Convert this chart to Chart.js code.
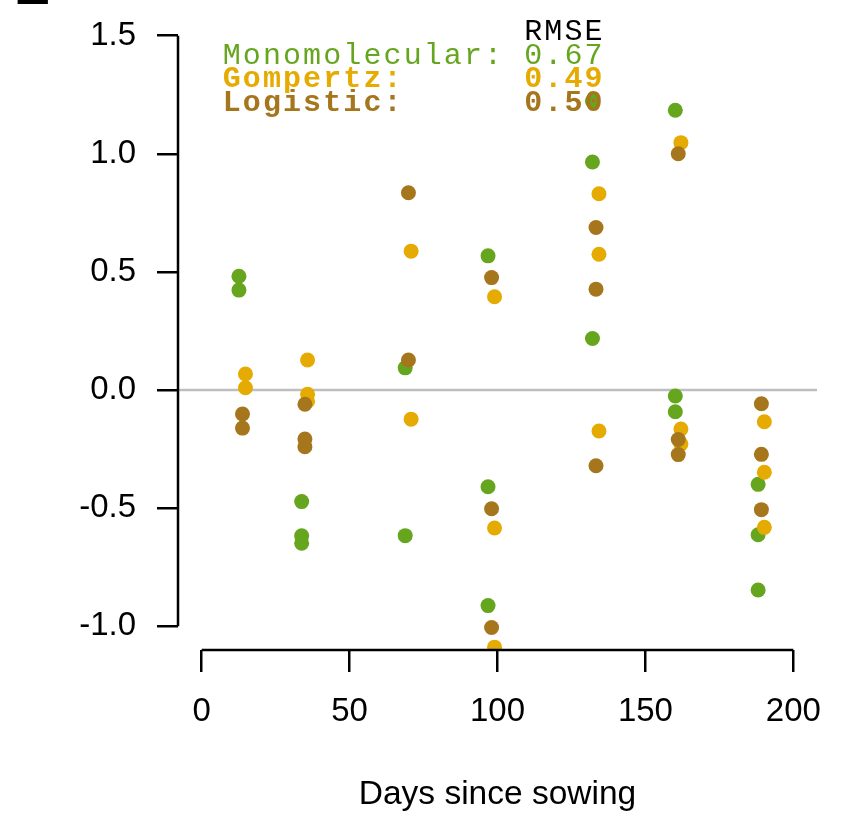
<!DOCTYPE html>
<html>
<head>
<meta charset="utf-8">
<script src="https://cdn.jsdelivr.net/npm/chart.js@4/dist/chart.umd.min.js"></script>
<style>
  html, body { margin: 0; padding: 0; background: #fff; }
  canvas { display: block; }
</style>
</head>
<body>
<canvas id="c" width="849" height="816"></canvas>
<script>
// residuals per model (x = days since sowing)
const monoDays  = [12.6, 12.6, 33.8, 33.8, 33.8, 68.8, 68.8, 96.8, 96.8, 96.8, 132.1, 132.1, 132.1, 160.1, 160.1, 160.1, 188.1, 188.1, 188.1];
const monoResid = [0.482, 0.423, -0.472, -0.617, -0.648, 0.094, -0.616, 0.568, -0.409, -0.912, 1.223, 0.965, 0.218, 1.184, -0.025, -0.092, -0.399, -0.612, -0.846];

const gompDays  = [14.8, 14.8, 35.8, 35.8, 35.8, 70.8, 70.8, 99.0, 99.0, 99.0, 134.3, 134.3, 134.3, 162.0, 162.0, 162.0, 190.2, 190.2, 190.2];
const gompResid = [0.068, 0.010, 0.127, -0.018, -0.047, 0.588, -0.123, 0.395, -0.584, -1.088, 0.831, 0.575, -0.173, 1.047, -0.165, -0.228, -0.134, -0.348, -0.581];

const logiDays  = [13.8, 13.8, 34.9, 34.9, 34.9, 69.9, 69.9, 98.0, 98.0, 98.0, 133.3, 133.3, 133.3, 161.1, 161.1, 161.1, 189.2, 189.2, 189.2];
const logiResid = [-0.101, -0.161, -0.060, -0.207, -0.240, 0.835, 0.127, 0.476, -0.502, -1.005, 0.688, 0.427, -0.320, 1.000, -0.209, -0.273, -0.058, -0.272, -0.506];

const models = ['Monomolecular', 'Gompertz', 'Logistic'];
const rmse = ['0.67', '0.49', '0.50'];
const colors = ['#66A61E', '#E6AB02', '#A6761D'];

const xTicks = [0, 50, 100, 150, 200];
const yTicks = [-1.0, -0.5, 0.0, 0.5, 1.0, 1.5];

const sans = '"Liberation Sans", Arial, Helvetica, sans-serif';
const mono = '"Liberation Mono", "Courier New", monospace';

const toPts = (xs, ys) => xs.map((x, i) => ({ x: x, y: ys[i] }));

// no extra room for edge labels, the plot box is fixed by layout padding
const noPad = s => { s.paddingTop = 0; s.paddingBottom = 0; s.paddingLeft = 0; s.paddingRight = 0; };

// zero line, clipped axis lines, RMSE legend, panel letter
const frame = {
    id: 'frame',
    beforeDatasetsDraw(chart) {
        const { ctx, chartArea: a, scales: { y } } = chart;
        const y0 = y.getPixelForValue(0);
        ctx.save();
        ctx.strokeStyle = '#BEBEBE';
        ctx.lineWidth = 2.5;
        ctx.beginPath();
        ctx.moveTo(a.left, y0);
        ctx.lineTo(a.right, y0);
        ctx.stroke();
        ctx.restore();
    },
    afterDraw(chart) {
        const { ctx, chartArea: a, scales: { x, y } } = chart;
        ctx.save();
        ctx.strokeStyle = '#000';
        ctx.lineWidth = 2.5;
        ctx.beginPath();
        ctx.moveTo(a.left, y.getPixelForValue(yTicks[0]));
        ctx.lineTo(a.left, y.getPixelForValue(yTicks[yTicks.length - 1]));
        ctx.moveTo(x.getPixelForValue(xTicks[0]), a.bottom);
        ctx.lineTo(x.getPixelForValue(xTicks[xTicks.length - 1]), a.bottom);
        ctx.stroke();

        // legend text
        const lx = a.left + 44.7;
        const colW = 20.1;
        ctx.textAlign = 'left';
        ctx.textBaseline = 'alphabetic';
        ctx.letterSpacing = '2.1px';
        ctx.font = '30px ' + mono;
        ctx.fillStyle = '#000';
        ctx.fillText('RMSE', lx + 15 * colW, a.top + 28);
        models.forEach((m, i) => {
            const by = a.top + 51.7 + i * 23.7;
            ctx.font = (i ? 'bold ' : '') + '30px ' + mono;
            ctx.fillStyle = colors[i];
            ctx.fillText(m + ':', lx, by);
            ctx.fillText(rmse[i], lx + 15 * colW, by);
        });

        // panel letter, cut off at the top edge
        ctx.letterSpacing = '0px';
        ctx.font = 'bold 54px ' + sans;
        ctx.fillStyle = '#000';
        ctx.fillText('E', 14, 4);
        ctx.restore();
    }
};

new Chart(document.getElementById('c'), {
    type: 'scatter',
    data: {
        datasets: [
            { label: models[0], data: toPts(monoDays, monoResid), backgroundColor: colors[0], order: 3 },
            { label: models[1], data: toPts(gompDays, gompResid), backgroundColor: colors[1], order: 2 },
            { label: models[2], data: toPts(logiDays, logiResid), backgroundColor: colors[2], order: 1 }
        ].map(d => Object.assign(d, { pointRadius: 7.5, borderWidth: 0, clip: 0 }))
    },
    options: {
        responsive: false,
        animation: false,
        events: [],
        layout: { padding: { left: 0, right: 32, top: 12, bottom: 0 } },
        plugins: { legend: { display: false }, tooltip: { enabled: false } },
        scales: {
            x: {
                type: 'linear',
                min: -8,
                max: 208,
                afterBuildTicks: s => { s.ticks = xTicks.map(v => ({ value: v })); },
                afterFit: s => { s.height = 166; noPad(s); },
                border: { display: false },
                grid: { drawOnChartArea: false, drawTicks: true, tickLength: 22, color: '#000', lineWidth: 2.5 },
                ticks: { font: { size: 33, family: sans }, color: '#000', padding: 20, maxRotation: 0, autoSkip: false },
                title: { display: true, text: 'Days since sowing', font: { size: 33.5, family: sans }, color: '#000', padding: { top: 0, bottom: 1 } }
            },
            y: {
                type: 'linear',
                min: -1.1,
                max: 1.6,
                afterBuildTicks: s => { s.ticks = yTicks.map(v => ({ value: v })); },
                afterFit: s => { s.width = 178; noPad(s); },
                border: { display: false },
                grid: { drawOnChartArea: false, drawTicks: true, tickLength: 21, color: '#000', lineWidth: 2.5 },
                ticks: { font: { size: 33, family: sans }, color: '#000', padding: 21, callback: v => v.toFixed(1) }
            }
        }
    },
    plugins: [frame]
});
</script>
</body>
</html>
